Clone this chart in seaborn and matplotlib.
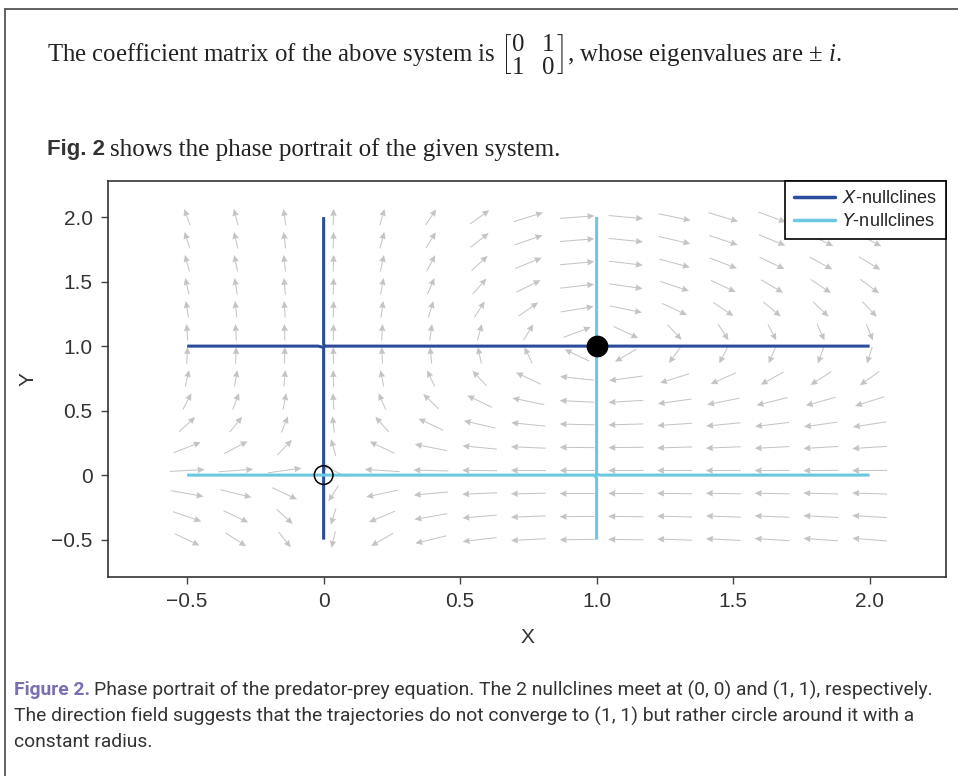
import numpy as np
import matplotlib.pyplot as plt
import seaborn as sns
from matplotlib.lines import Line2D

# direction field grid and system dx/dt = x(y-1), dy/dt = y(1-x)
grid_x = np.linspace(-0.5, 2.0, 15)
grid_y = np.linspace(-0.5, 2.0, 15)
eq_filled = {'x': [1.0], 'y': [1.0]}
eq_open = {'x': [0.0], 'y': [0.0]}
xticks = [-0.5, 0, 0.5, 1.0, 1.5, 2.0]
tick_labels = ['\u22120.5', '0', '0.5', '1.0', '1.5', '2.0']

sns.set_style('ticks')
plt.rcParams['font.family'] = ['Liberation Sans', 'DejaVu Sans']
plt.rcParams['mathtext.fontset'] = 'custom'
plt.rcParams['mathtext.rm'] = 'Liberation Serif'
plt.rcParams['mathtext.it'] = 'Liberation Serif:italic'
plt.rcParams['mathtext.sf'] = 'DejaVu Sans:italic'

fig = plt.figure(figsize=(9.58, 7.76), dpi=100)
ax = fig.add_axes([108 / 958, 1 - 577 / 776, 838 / 958, 396 / 776])

X, Y = np.meshgrid(grid_x, grid_y)
U = X * (Y - 1)
V = Y * (1 - X)
N = np.hypot(U, V)
ax.quiver(X, Y, U / N, V / N, angles='xy', scale_units='xy', scale=7.8,
          pivot='mid', color='#c4c4c4', width=0.0012, headwidth=6.5,
          headlength=7, headaxislength=6.5)

# nullclines as zero contours
cx = np.linspace(-0.5, 2.0, 100)
CX, CY = np.meshgrid(cx, cx)
dark = '#2b4c9b'
light = '#6cc8e0'
ax.contour(CX, CY, CX * (CY - 1), levels=[0], colors=[dark], linewidths=2.2)
ax.contour(CX, CY, CY * (1 - CX), levels=[0], colors=[light], linewidths=2.2)

sns.scatterplot(data=eq_filled, x='x', y='y', ax=ax, s=210, color='black',
                edgecolor='black', zorder=5)
sns.scatterplot(data=eq_open, x='x', y='y', ax=ax, s=180, facecolor='none',
                edgecolor='black', linewidth=1.1, zorder=5)

ax.set_xlim(-0.79, 2.28)
ax.set_ylim(-0.79, 2.28)
ax.set_xticks(xticks)
ax.set_xticklabels(tick_labels)
ax.set_yticks(xticks)
ax.set_yticklabels(tick_labels)
ax.tick_params(length=5, width=1, color='#444444', labelcolor='#333333',
               labelsize=15, pad=6)
for s in ax.spines.values():
    s.set_color('#333333')
    s.set_linewidth(1.2)
ax.set_xlabel('X', fontsize=15, color='#333333', labelpad=12)
ax.set_ylabel('Y', fontsize=15, color='#333333', labelpad=10)

handles = [Line2D([], [], color=dark, lw=2.5), Line2D([], [], color=light, lw=2.5)]
leg = ax.legend(handles, [r'$\mathsf{X}$-nullclines', r'$\mathsf{Y}$-nullclines'],
                loc='upper right', borderaxespad=0, fancybox=False,
                edgecolor='black', fontsize=13, handlelength=2.3,
                handletextpad=0.4, borderpad=0.5, labelspacing=0.35)
leg.get_frame().set_linewidth(1.2)
leg.get_frame().set_alpha(1)

# page text
txt = '#222222'
fig.text(47 / 958, 1 - 55 / 776,
         r'The coefficient matrix of the above system is '
         r'$\genfrac{[}{]}{0}{0}{0\quad 1}{1\quad 0}$'
         r', whose eigenvalues are $\pm$ $i$.',
         fontsize=17.8, family='Liberation Serif', color=txt, va='center')

fig.canvas.draw()
r = fig.canvas.get_renderer()
t1 = fig.text(47 / 958, 1 - 150 / 776, 'Fig. 2', fontsize=16,
              fontweight='bold', color='#333333', va='center')
w = t1.get_window_extent(r).x1
fig.text((w + 5) / 958, 1 - 150 / 776, 'shows the phase portrait of the given system.',
         fontsize=18, family='Liberation Serif', color=txt, va='center')

t2 = fig.text(14 / 958, 1 - 690 / 776, 'Figure 2.', fontsize=13.9,
              fontweight='bold', color='#7b6fb4', va='center', family='Roboto')
w = t2.get_window_extent(r).x1
fig.text((w + 4) / 958, 1 - 690 / 776,
         'Phase portrait of the predator-prey equation. The 2 nullclines meet at (0, 0) and (1, 1), respectively.',
         fontsize=13.9, color='#333333', va='center', family='Roboto')
fig.text(14 / 958, 1 - 716 / 776,
         'The direction field suggests that the trajectories do not converge to (1, 1) but rather circle around it with a',
         fontsize=13.9, color='#333333', va='center', family='Roboto')
fig.text(14 / 958, 1 - 742 / 776, 'constant radius.',
         fontsize=13.9, color='#333333', va='center', family='Roboto')

# page border
fig.add_artist(Line2D([4.5 / 958, 4.5 / 958], [0, 1 - 9 / 776], color='#555555', lw=1.3))
fig.add_artist(Line2D([4.5 / 958, 1], [1 - 9 / 776, 1 - 9 / 776], color='#555555', lw=1.3))

fig.savefig('out.png', dpi=100)
